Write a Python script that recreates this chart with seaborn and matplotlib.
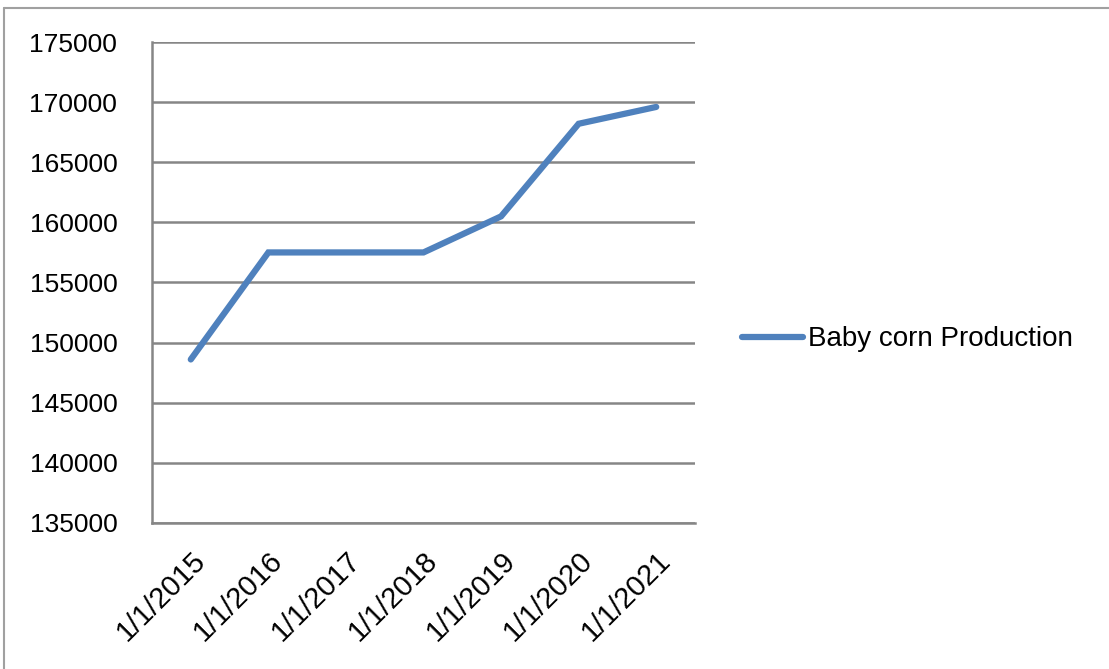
import pandas as pd
import numpy as np
import matplotlib.pyplot as plt
import matplotlib.transforms as mtransforms
import seaborn as sns
from matplotlib.lines import Line2D
from matplotlib.ticker import FixedLocator

dates = ['1/1/2015', '1/1/2016', '1/1/2017', '1/1/2018', '1/1/2019', '1/1/2020', '1/1/2021']
production = [148600, 157500, 157500, 157500, 160500, 168200, 169600]
y_ticks = [135000, 140000, 145000, 150000, 155000, 160000, 165000, 170000, 175000]

df = pd.DataFrame({'date': dates, 'production': production})

sns.set_style('white')
plt.rcParams['font.family'] = ['Liberation Sans', 'DejaVu Sans']

fig = plt.figure(figsize=(11.09, 6.69), dpi=100)
ax = fig.add_axes([152/1109, 1-523/669, (695-152)/1109, (523-42)/669])

grid_col = '#868686'
ax.set_axisbelow(True)
sns.lineplot(x=np.arange(len(dates)), y=df['production'], ax=ax, color='#4F81BD',
             linewidth=4.5, solid_capstyle='round', solid_joinstyle='miter',
             label='Baby corn Production')

ax.set_xlim(-0.5, len(dates) - 0.5)
ax.set_ylim(135000, 175000)
ax.set_yticks(y_ticks)
ax.set_yticklabels([str(v) for v in y_ticks], fontsize=19, color='black')
ax.set_xticks(np.arange(len(dates)))
ax.set_xticklabels(dates, rotation=45, ha='right', va='top', rotation_mode='anchor',
                   fontsize=21, color='black')
shift = mtransforms.ScaledTranslation(-2/100, 0, fig.dpi_scale_trans)
for lbl in ax.get_xticklabels():
    lbl.set_transform(lbl.get_transform() + shift)
ax.xaxis.set_minor_locator(FixedLocator(np.arange(-0.5, len(dates), 1.0)))
ax.tick_params(axis='x', which='major', length=0, pad=17)
ax.tick_params(axis='x', which='minor', length=10, width=1.5, color=grid_col, direction='out')
ax.tick_params(axis='y', which='major', length=10, width=1.5, color=grid_col, direction='out', pad=15)
ax.yaxis.grid(True, color=grid_col, linewidth=1.8)
ax.set_xlabel('')
ax.set_ylabel('')

for side in ['top', 'right']:
    ax.spines[side].set_visible(False)
for side in ['left', 'bottom']:
    ax.spines[side].set_color(grid_col)
    ax.spines[side].set_linewidth(1.8)

leg = ax.legend(loc='center left', bbox_to_anchor=(1.04, 0.382), frameon=False, fontsize=20,
                handlelength=2.2, handletextpad=0.2, labelcolor='black')

# outer chart border (partially visible)
fig.add_artist(Line2D([4/1109, 4/1109], [0, 1-8/669], color='#a0a0a0', linewidth=1.5))
fig.add_artist(Line2D([4/1109, 1], [1-8/669, 1-8/669], color='#a0a0a0', linewidth=1.5))

fig.savefig('out.png', dpi=100)
